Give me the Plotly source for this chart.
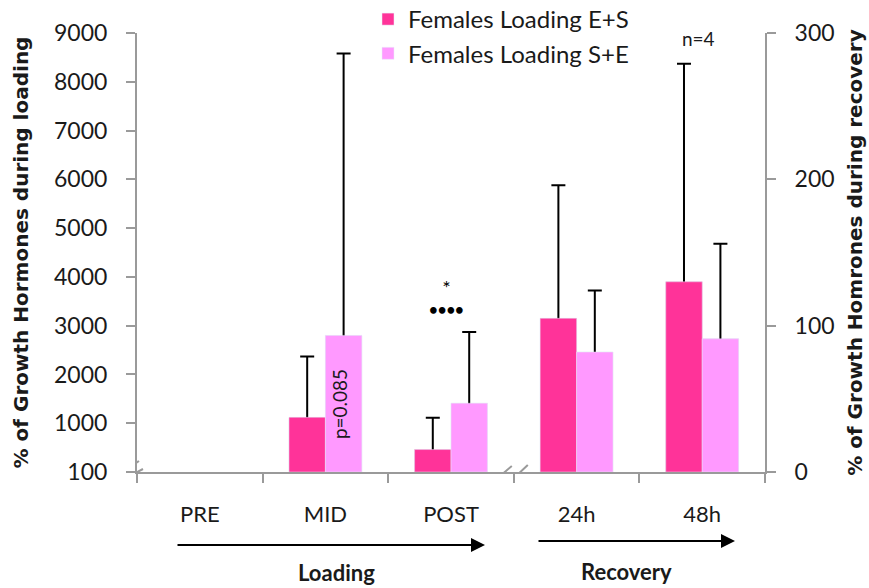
import plotly.graph_objects as go

# ---------------- data ----------------
categories = ["PRE", "MID", "POST", "24h", "48h"]
loading_categories = ["PRE", "MID", "POST"]
recovery_categories = ["24h", "48h"]

series_names = ["Females Loading E+S", "Females Loading S+E"]

# loading phase (left axis, %)
loading_es = [None, 1120, 460]
loading_es_err = [0, 1250, 650]
loading_se = [None, 2800, 1410]
loading_se_err = [0, 5780, 1460]

# recovery phase (right axis, %)
recovery_es = [105, 130]
recovery_es_err = [91, 149]
recovery_se = [82, 91]
recovery_se_err = [42, 65]

left_tick_values = [0, 1000, 2000, 3000, 4000, 5000, 6000, 7000, 8000, 9000]
left_tick_labels = ["100", "1000", "2000", "3000", "4000", "5000", "6000", "7000", "8000", "9000"]
right_tick_values = [0, 100, 200, 300]
right_tick_labels = ["0", "100", "200", "300"]

# ---------------- style ----------------
C_ES = "#FF3399"
C_SE = "#FF99FF"
AXC = "#9a9a9a"
FONT = "Lato"
TFONT = "DejaVu Sans"
TXT = "#1a1a1a"
BAR_W = 0.29

# plot-area geometry (pixels) used only for decoration placement
L, R, T, B = 137, 765, 33, 472
def px(x):
    return (x - L) / (R - L)
def py(y):
    return (B - y) / (B - T)

def err(vals):
    # one-sided look: the lower half is hidden by the bar drawn over it
    return dict(type="data", array=vals, symmetric=True,
                color="black", thickness=2, width=7)

fig = go.Figure()
# bars carrying the error bars
fig.add_trace(go.Bar(x=loading_categories, y=loading_es, name=series_names[0], marker_color=C_ES,
                     width=BAR_W, offset=-BAR_W, error_y=err(loading_es_err),
                     legendgroup="es", yaxis="y"))
fig.add_trace(go.Bar(x=loading_categories, y=loading_se, name=series_names[1], marker_color=C_SE,
                     width=BAR_W, offset=0, error_y=err(loading_se_err),
                     legendgroup="se", yaxis="y"))
# same bars on top (hide the lower half of the error bars)
fig.add_trace(go.Bar(x=loading_categories, y=loading_es, name=series_names[0], marker_color=C_ES,
                     width=BAR_W, offset=-BAR_W, legendgroup="es", showlegend=False, yaxis="y"))
fig.add_trace(go.Bar(x=loading_categories, y=loading_se, name=series_names[1], marker_color=C_SE,
                     width=BAR_W, offset=0, legendgroup="se", showlegend=False, yaxis="y"))

fig.add_trace(go.Bar(x=recovery_categories, y=recovery_es, name=series_names[0], marker_color=C_ES,
                     width=BAR_W, offset=-BAR_W, error_y=err(recovery_es_err),
                     legendgroup="es", showlegend=False, yaxis="y2"))
fig.add_trace(go.Bar(x=recovery_categories, y=recovery_se, name=series_names[1], marker_color=C_SE,
                     width=BAR_W, offset=0, error_y=err(recovery_se_err),
                     legendgroup="se", showlegend=False, yaxis="y2"))
fig.add_trace(go.Bar(x=recovery_categories, y=recovery_es, name=series_names[0], marker_color=C_ES,
                     width=BAR_W, offset=-BAR_W, legendgroup="es", showlegend=False, yaxis="y2"))
fig.add_trace(go.Bar(x=recovery_categories, y=recovery_se, name=series_names[1], marker_color=C_SE,
                     width=BAR_W, offset=0, legendgroup="se", showlegend=False, yaxis="y2"))

def note(**kw):
    d = dict(showarrow=False, xanchor="center", yanchor="middle")
    d.update(kw)
    return d

annotations = [
    # phase labels + arrows
    note(x=px(336), y=py(572), xref="paper", yref="paper", text="<b>Loading</b>",
         font=dict(family=FONT, size=22, color=TXT)),
    note(x=px(626), y=py(571), xref="paper", yref="paper", text="<b>Recovery</b>",
         font=dict(family=FONT, size=22, color=TXT)),
    dict(x=px(485), y=py(545), xref="paper", yref="paper", text="", showarrow=True,
         ax=-(485 - 176), ay=0, arrowhead=2, arrowsize=1.4, arrowwidth=2, arrowcolor="black"),
    dict(x=px(735), y=py(541), xref="paper", yref="paper", text="", showarrow=True,
         ax=-(735 - 537), ay=0, arrowhead=2, arrowsize=1.4, arrowwidth=2, arrowcolor="black"),
    # significance marks (asterisk above four dots)
    note(x="POST", y=py(296), xref="x", yref="paper",
         text="<span style='font-size:20px'>*</span><br><b>••••</b>", xshift=-5,
         font=dict(family=FONT, size=15, color="black")),
    note(x="48h", y=py(39), xref="x", yref="paper", text="n=4", xshift=-4,
         font=dict(family=FONT, size=19, color=TXT)),
    note(x="MID", y=loading_se[1] / 2, xref="x", yref="y", text="p=0.085",
         xshift=14, textangle=-90, font=dict(family=FONT, size=19, color=TXT)),
]

shapes = [
    # break on x axis between POST and 24h
    dict(type="rect", xref="x", yref="y", xsizemode="pixel", ysizemode="pixel",
         xanchor=2.5, yanchor=0, x0=-11, x1=9, y0=-12, y1=3,
         fillcolor="white", line=dict(width=0), layer="above"),
    dict(type="line", xref="x", yref="y", xsizemode="pixel", ysizemode="pixel",
         xanchor=2.5, yanchor=0, x0=-16, y0=-6, x1=-2, y1=6,
         line=dict(color=AXC, width=2), layer="above"),
    dict(type="line", xref="x", yref="y", xsizemode="pixel", ysizemode="pixel",
         xanchor=2.5, yanchor=0, x0=-2, y0=-8, x1=14, y1=7,
         line=dict(color=AXC, width=2), layer="above"),
    # break at bottom-left corner
    dict(type="rect", xref="x", yref="y", xsizemode="pixel", ysizemode="pixel",
         xanchor=-0.5, yanchor=0, x0=-3, x1=3, y0=2, y1=20,
         fillcolor="white", line=dict(width=0), layer="above"),
    dict(type="line", xref="x", yref="y", xsizemode="pixel", ysizemode="pixel",
         xanchor=-0.5, yanchor=0, x0=-12, y0=2, x1=2, y1=11,
         line=dict(color=AXC, width=2), layer="above"),
    dict(type="line", xref="x", yref="y", xsizemode="pixel", ysizemode="pixel",
         xanchor=-0.5, yanchor=0, x0=-9, y0=-5, x1=6, y1=3,
         line=dict(color=AXC, width=2), layer="above"),
]

fig.update_layout(
    width=869, height=588,
    margin=dict(l=L, r=869 - R, t=T, b=588 - B, pad=0, autoexpand=False),
    paper_bgcolor="white", plot_bgcolor="white",
    barmode="overlay",
    font=dict(family=FONT, size=22, color=TXT),
    showlegend=True,
    legend=dict(x=px(368), y=py(-3), xref="paper", yref="paper", xanchor="left", yanchor="top",
                bgcolor="rgba(0,0,0,0)", font=dict(family=FONT, size=24, color=TXT),
                tracegroupgap=0, itemwidth=30),
    xaxis=dict(type="category", categoryorder="array", categoryarray=categories,
               range=[-0.5, 4.5], showline=True, linecolor=AXC, linewidth=2,
               ticks="outside", tickson="boundaries", ticklen=9, tickwidth=2, tickcolor=AXC,
               ticklabelstandoff=22, tickfont=dict(family=FONT, size=22, color=TXT),
               showgrid=False, zeroline=False, fixedrange=True, automargin=False),
    yaxis=dict(range=[0, 9000], tickvals=left_tick_values, ticktext=left_tick_labels,
               showline=True, linecolor=AXC, linewidth=2, ticks="outside", ticklen=9,
               tickwidth=2, tickcolor=AXC, ticklabelstandoff=14, automargin=False,
               tickfont=dict(family=FONT, size=23, color=TXT),
               showgrid=False, zeroline=False,
               title=dict(text="<b>% of Growth Hormones during loading</b>", standoff=20,
                          font=dict(family=TFONT, size=20, color=TXT))),
    yaxis2=dict(range=[0, 300], tickvals=right_tick_values, ticktext=right_tick_labels,
                overlaying="y", side="right", showline=True, linecolor=AXC, linewidth=2,
                ticks="outside", ticklen=9, tickwidth=2, tickcolor=AXC, ticklabelstandoff=14,
                tickfont=dict(family=FONT, size=23, color=TXT), automargin=False,
                showgrid=False, zeroline=False,
                title=dict(text="<b>% of Growth Homrones during recovery</b>", standoff=14,
                           font=dict(family=TFONT, size=20, color=TXT))),
    annotations=annotations,
    shapes=shapes,
)

fig.write_html("out.html")
